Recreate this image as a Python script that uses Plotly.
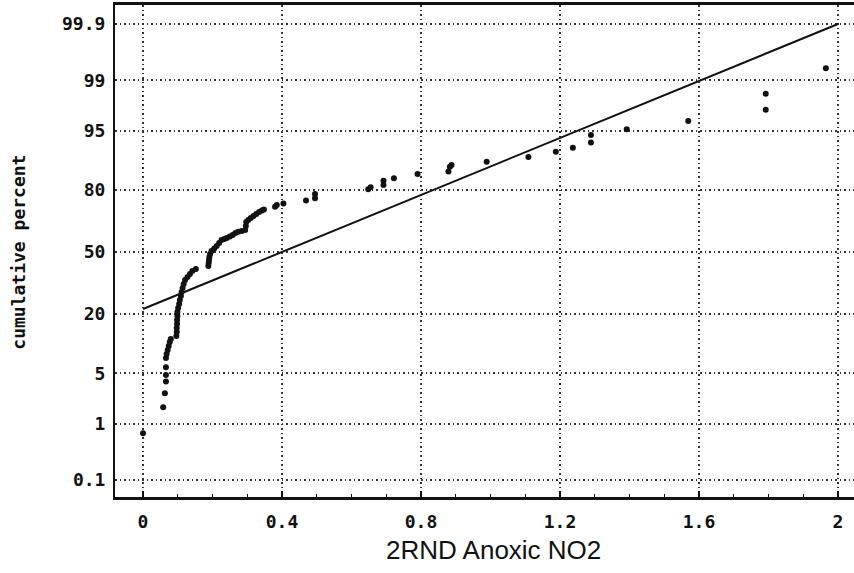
from statistics import NormalDist

import plotly.graph_objects as go

# Observed 2RND anoxic NO2 values (sorted) and their cumulative percent
no2 = [
    0.000, 0.058, 0.063, 0.066, 0.066, 0.066, 0.066, 0.068, 0.071, 0.074,
    0.077, 0.080, 0.096, 0.097, 0.097, 0.098, 0.098, 0.099, 0.099, 0.101,
    0.104, 0.106, 0.109, 0.111, 0.114, 0.117, 0.121, 0.128, 0.135, 0.142,
    0.152, 0.188, 0.189, 0.190, 0.191, 0.193, 0.197, 0.205, 0.212, 0.219,
    0.226, 0.234, 0.241, 0.250, 0.258, 0.266, 0.274, 0.284, 0.294, 0.296,
    0.297, 0.303, 0.310, 0.318, 0.326, 0.334, 0.342, 0.348, 0.380, 0.385,
    0.404, 0.469, 0.495, 0.495, 0.648, 0.655, 0.692, 0.692, 0.722, 0.790,
    0.879, 0.883, 0.888, 0.989, 1.109, 1.188, 1.237, 1.289, 1.289, 1.392,
    1.569, 1.792, 1.792, 1.965,
]
cum_pct = [
    0.70, 1.77, 2.77, 3.95, 4.78, 5.91, 7.55, 8.35, 9.21, 10.13,
    11.12, 11.92, 12.75, 13.92, 15.15, 16.45, 17.85, 19.30, 20.8, 22.4,
    24.05, 25.8, 27.55, 29.4, 31.3, 33.2, 35.2, 36.7, 38.3, 39.85,
    40.9, 42.5, 44.1, 45.7, 47.3, 48.9, 50.5, 51.9, 53.2, 54.9,
    56.5, 57.0, 57.5, 58.3, 59.1, 60.1, 60.8, 61.2, 61.7, 63.8,
    65.8, 66.8, 67.8, 68.7, 69.7, 70.6, 71.3, 71.8, 73.0, 73.8,
    74.5, 75.7, 76.7, 78.4, 80.2, 81.0, 81.8, 83.3, 84.1, 85.5,
    86.2, 87.6, 88.1, 88.95, 90.1, 91.3, 92.1, 93.1, 94.35, 95.2,
    96.2, 97.3, 98.4, 99.36,
]

# Fitted normal reference line (end points)
fit_x = [0.0, 2.0]
fit_pct = [22.0, 99.9]

# Probability-axis ticks
pct_ticks = [0.1, 1, 5, 20, 50, 80, 95, 99, 99.9]
pct_labels = ["0.1", "1", "5", "20", "50", "80", "95", "99", "99.9"]

_nd = NormalDist()


def probit(p):
    return _nd.inv_cdf(p / 100.0)


mono = "DejaVu Sans Mono"
ink = "#111111"

fig = go.Figure()
fig.add_trace(go.Scatter(
    x=fit_x, y=[probit(p) for p in fit_pct],
    mode="lines", line=dict(color=ink, width=2),
    hoverinfo="skip", showlegend=False,
))
fig.add_trace(go.Scatter(
    x=no2, y=[probit(p) for p in cum_pct],
    mode="markers",
    marker=dict(color=ink, size=6, line=dict(width=0)),
    showlegend=False,
))

grid_color = "#333333"
grid_dash = "1.5px,3px"

fig.update_xaxes(
    range=[-0.0806, 2.046],
    tickmode="linear", tick0=0, dtick=0.4,
    ticks="inside", ticklen=6, tickwidth=1.5, tickcolor=ink,
    minor=dict(dtick=0.1, ticks="inside", ticklen=3, tickwidth=1.2,
               tickcolor=ink, showgrid=False),
    showgrid=True, gridcolor=grid_color, gridwidth=1.5, griddash=grid_dash,
    showline=True, linecolor=ink, linewidth=2.5, mirror=True,
    zeroline=False,
    tickfont=dict(family=mono, size=18, color=ink, weight="bold"),
    ticklabelstandoff=7,
)
fig.update_yaxes(
    range=[-3.320, 3.347],
    tickmode="array",
    tickvals=[probit(p) for p in pct_ticks],
    ticktext=pct_labels,
    ticks="",
    showgrid=True, gridcolor=grid_color, gridwidth=1.5, griddash=grid_dash,
    showline=True, linecolor=ink, linewidth=2,
    zeroline=False,
    tickfont=dict(family=mono, size=18, color=ink, weight="bold"),
    ticklabelstandoff=4,
)

fig.add_annotation(
    text="2RND Anoxic NO2", xref="paper", yref="paper",
    x=0.512, y=-0.108, xanchor="center", yanchor="middle", showarrow=False,
    font=dict(family="Liberation Sans", size=26, color=ink),
)
fig.add_annotation(
    text="cumulative percent", xref="paper", yref="paper",
    x=-0.131, y=0.497, xanchor="center", yanchor="middle", showarrow=False,
    textangle=-90,
    font=dict(family=mono, size=18, color=ink, weight="bold"),
)

fig.update_layout(
    width=854, height=573,
    margin=dict(l=115, r=0, t=5, b=76),
    paper_bgcolor="white", plot_bgcolor="white",
    showlegend=False,
)

fig.write_html("out.html")
